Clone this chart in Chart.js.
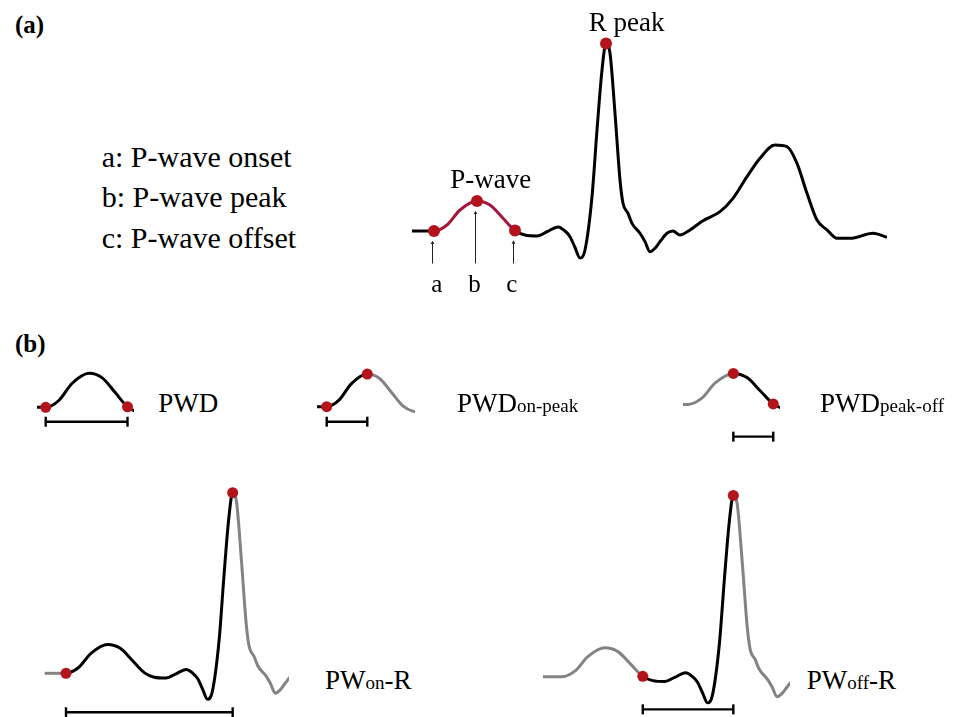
<!DOCTYPE html>
<html>
<head>
<meta charset="utf-8">
<script src="https://cdn.jsdelivr.net/npm/chart.js@4.4.1/dist/chart.umd.min.js"></script>
<style>
  html, body { margin: 0; padding: 0; background: #fff; }
  #page { position: relative; width: 955px; height: 717px; overflow: hidden;
          font-family: "Liberation Serif", "Times New Roman", serif; color: #000; }
  #page canvas { position: absolute; }
  .t { position: absolute; white-space: nowrap; line-height: 1; }
  .sub { font-size: 19px; }
</style>
</head>
<body>
<div id="page"></div>
<script>
// one heartbeat: time in ms from P-wave onset, amplitude in mV
const ecgTime = [-22, 0, 13, 26, 43, 56, 69, 81, 91, 103, 113, 124, 131, 136, 141, 146, 151, 158,
  163, 168, 172, 176, 181, 186, 189, 194, 198, 206, 211, 216, 221, 226, 233, 239, 246, 256, 269, 286,
  299, 313, 326, 341, 353, 363, 373, 383, 393, 403, 416, 439, 453];
const ecgAmp = [0, 0, 0.04, 0.14, 0.2, 0.173, 0.085, 0.003, -0.027, -0.033, -0.005, 0.027, 0.0, -0.038, -0.11, -0.18, -0.127, 0.229,
  0.673, 1.073, 1.25, 1.185, 0.785, 0.34, 0.185, 0.118, 0.051, -0.015, -0.071, -0.138, -0.115, -0.071, -0.015, 0.0, -0.027, 0.007, 0.069, 0.129,
  0.218, 0.362, 0.485, 0.573, 0.562, 0.451, 0.251, 0.073, 0.007, -0.049, -0.049, -0.015, -0.042];

// fiducial points (ms)
const eventNames = ["start", "onset", "peak", "offset", "r", "end"];
const eventTimes = [-22, 0, 43, 81, 172, 453];

const legendLines = ["a: P-wave onset", "b: P-wave peak", "c: P-wave offset"];
const markerLetters = ["a", "b", "c"];
const panelTitles = ["(a)", "(b)"];
const measureNames = [
  ["PWD", ""],
  ["PWD", "on-peak"],
  ["PWD", "peak-off"],
  ["PW", "on", "-R"],
  ["PW", "off", "-R"]
];

const RED = "#b3141c";
const CRIMSON = "#a3173e";
const GREY = "#838383";

const page = document.getElementById("page");

function tAt(name) { return eventTimes[eventNames.indexOf(name)]; }
function ampAt(t) { return ecgAmp[ecgTime.indexOf(t)]; }

// layout of every small chart: where the beat goes and how far it is zoomed
const panels = [
  { from: -22, to: 453, x0: 434, y0: 231, kx: 1, ky: 150, top: 28, bottom: 300,
    base: "#000", hi: CRIMSON, ink: ["onset", "offset"], dots: ["onset", "peak", "offset", "r"],
    dotR: 6, arrows: ["onset", "peak", "offset"] },
  { from: -9, to: 87, x0: 45.7, y0: 407.3, kx: 1.01, ky: 170, top: 360, bottom: 440,
    base: GREY, hi: "#000", ink: ["start", "end"], span: ["onset", "offset"], dots: ["onset", "offset"], bracket: -0.085 },
  { from: -10.6, to: 93.5, x0: 326.7, y0: 406.7, kx: 0.944, ky: 163, top: 360, bottom: 440,
    base: GREY, hi: "#000", ink: ["start", "peak"], span: ["onset", "peak"], dots: ["onset", "peak"], bracket: -0.092 },
  { from: -5.2, to: 87.4, x0: 688.2, y0: 404.4, kx: 1.05, ky: 155, top: 360, bottom: 450,
    base: GREY, hi: "#000", ink: ["peak", "end"], span: ["peak", "offset"], dots: ["peak", "offset"], bracket: -0.208 },
  { from: -25, to: 230.4, x0: 66, y0: 673.3, kx: 0.969, ky: 144.5, top: 480, bottom: 717,
    base: GREY, hi: "#000", ink: ["onset", "r"], span: ["onset", "r"], dots: ["onset", "r"], bracket: -0.27 },
  { from: -19.6, to: 228.2, x0: 562.2, y0: 676.7, kx: 0.995, ky: 145, top: 480, bottom: 717,
    base: GREY, hi: "#000", ink: ["offset", "r"], span: ["offset", "r"], dots: ["offset", "r"], bracket: -0.225 }
];

function addPanel(p) {
  const pad = 10;
  const L = Math.round(p.x0 + p.from * p.kx - pad);
  const W = Math.round((p.to - p.from) * p.kx + 2 * pad);
  const H = p.bottom - p.top;
  const xMin = (L + pad - p.x0) / p.kx;
  const xMax = xMin + (W - 2 * pad) / p.kx;

  const cv = document.createElement("canvas");
  cv.width = W;
  cv.height = H;
  cv.style.left = L + "px";
  cv.style.top = p.top + "px";
  page.appendChild(cv);

  const c0 = tAt(p.ink[0]), c1 = tAt(p.ink[1]);
  const datasets = [];

  datasets.push({
    data: p.dots.map(n => ({ x: tAt(n), y: ampAt(tAt(n)) })),
    showLine: false,
    pointRadius: p.dotR || 5.5,
    pointBackgroundColor: RED,
    pointBorderWidth: 0,
    clip: false
  });

  datasets.push({
    data: ecgTime.map((t, i) => ({ x: t, y: ecgAmp[i] })),
    borderColor: p.base,
    borderWidth: 3,
    pointRadius: 0,
    cubicInterpolationMode: "monotone",
    clip: { left: 0, right: 0, top: false, bottom: false },
    segment: {
      borderColor: c => (c.p0.parsed.x >= c0 && c.p1.parsed.x <= c1) ? p.hi : p.base
    }
  });

  if (p.bracket !== undefined) {
    const h0 = tAt(p.span[0]), h1 = tAt(p.span[1]);
    datasets.push({
      data: [{ x: h0, y: p.bracket }, { x: h1, y: p.bracket }],
      borderColor: "#000",
      borderWidth: 2.4,
      pointStyle: "line",
      pointRotation: 90,
      pointRadius: 5,
      pointBorderColor: "#000",
      pointBorderWidth: 2.4,
      clip: false
    });
  }

  (p.arrows || []).forEach(n => {
    const t = tAt(n);
    datasets.push({
      data: [{ x: t - 2, y: -0.215 }, { x: t - 1.5, y: ampAt(t) - 0.08 }],
      borderColor: "#222",
      borderWidth: 1,
      pointRadius: [0, 2.2],
      pointStyle: "triangle",
      pointBackgroundColor: "#222",
      pointBorderWidth: 0,
      clip: false
    });
  });

  new Chart(cv, {
    type: "line",
    data: { datasets },
    options: {
      responsive: false,
      animation: false,
      events: [],
      layout: { padding: pad },
      plugins: { legend: { display: false }, tooltip: { enabled: false } },
      scales: {
        x: { type: "linear", display: false, min: xMin, max: xMax },
        y: { type: "linear", display: false,
             min: (p.y0 - (p.bottom - pad)) / p.ky,
             max: (p.y0 - (p.top + pad)) / p.ky }
      }
    }
  });
}

panels.forEach(addPanel);

// texts
function text(html, x, base, size, opt = {}) {
  const d = document.createElement("div");
  d.className = "t";
  d.innerHTML = html;
  d.style.fontSize = size + "px";
  d.style.left = x + "px";
  d.style.top = (base - 0.8375 * size) + "px";
  if (opt.bold) d.style.fontWeight = "bold";
  if (opt.center) d.style.transform = "translateX(-50%)";
  page.appendChild(d);
}

function measure(parts) {
  return parts.map((s, i) => i % 2 === 1 ? '<span class="sub">' + s + '</span>' : s).join("");
}

text(panelTitles[0], 15, 33, 25, { bold: true });
text(panelTitles[1], 15, 352, 25, { bold: true });

const legendBase = [166.7, 207, 248];
legendLines.forEach((s, i) => text(s, 101.7, legendBase[i], 30));

text("R peak", 626.7, 31.7, 27, { center: true });
text("P-wave", 490.8, 188.3, 27, { center: true });

const letterX = [436.7, 474.5, 511.7];
markerLetters.forEach((s, i) => text(s, letterX[i], 291.7, 25, { center: true }));

const measurePos = [[158.3, 412.7], [457, 412.7], [820, 412.7], [325, 690], [806.7, 690]];
measureNames.forEach((parts, i) => text(measure(parts), measurePos[i][0], measurePos[i][1], 27));
</script>
</body>
</html>
